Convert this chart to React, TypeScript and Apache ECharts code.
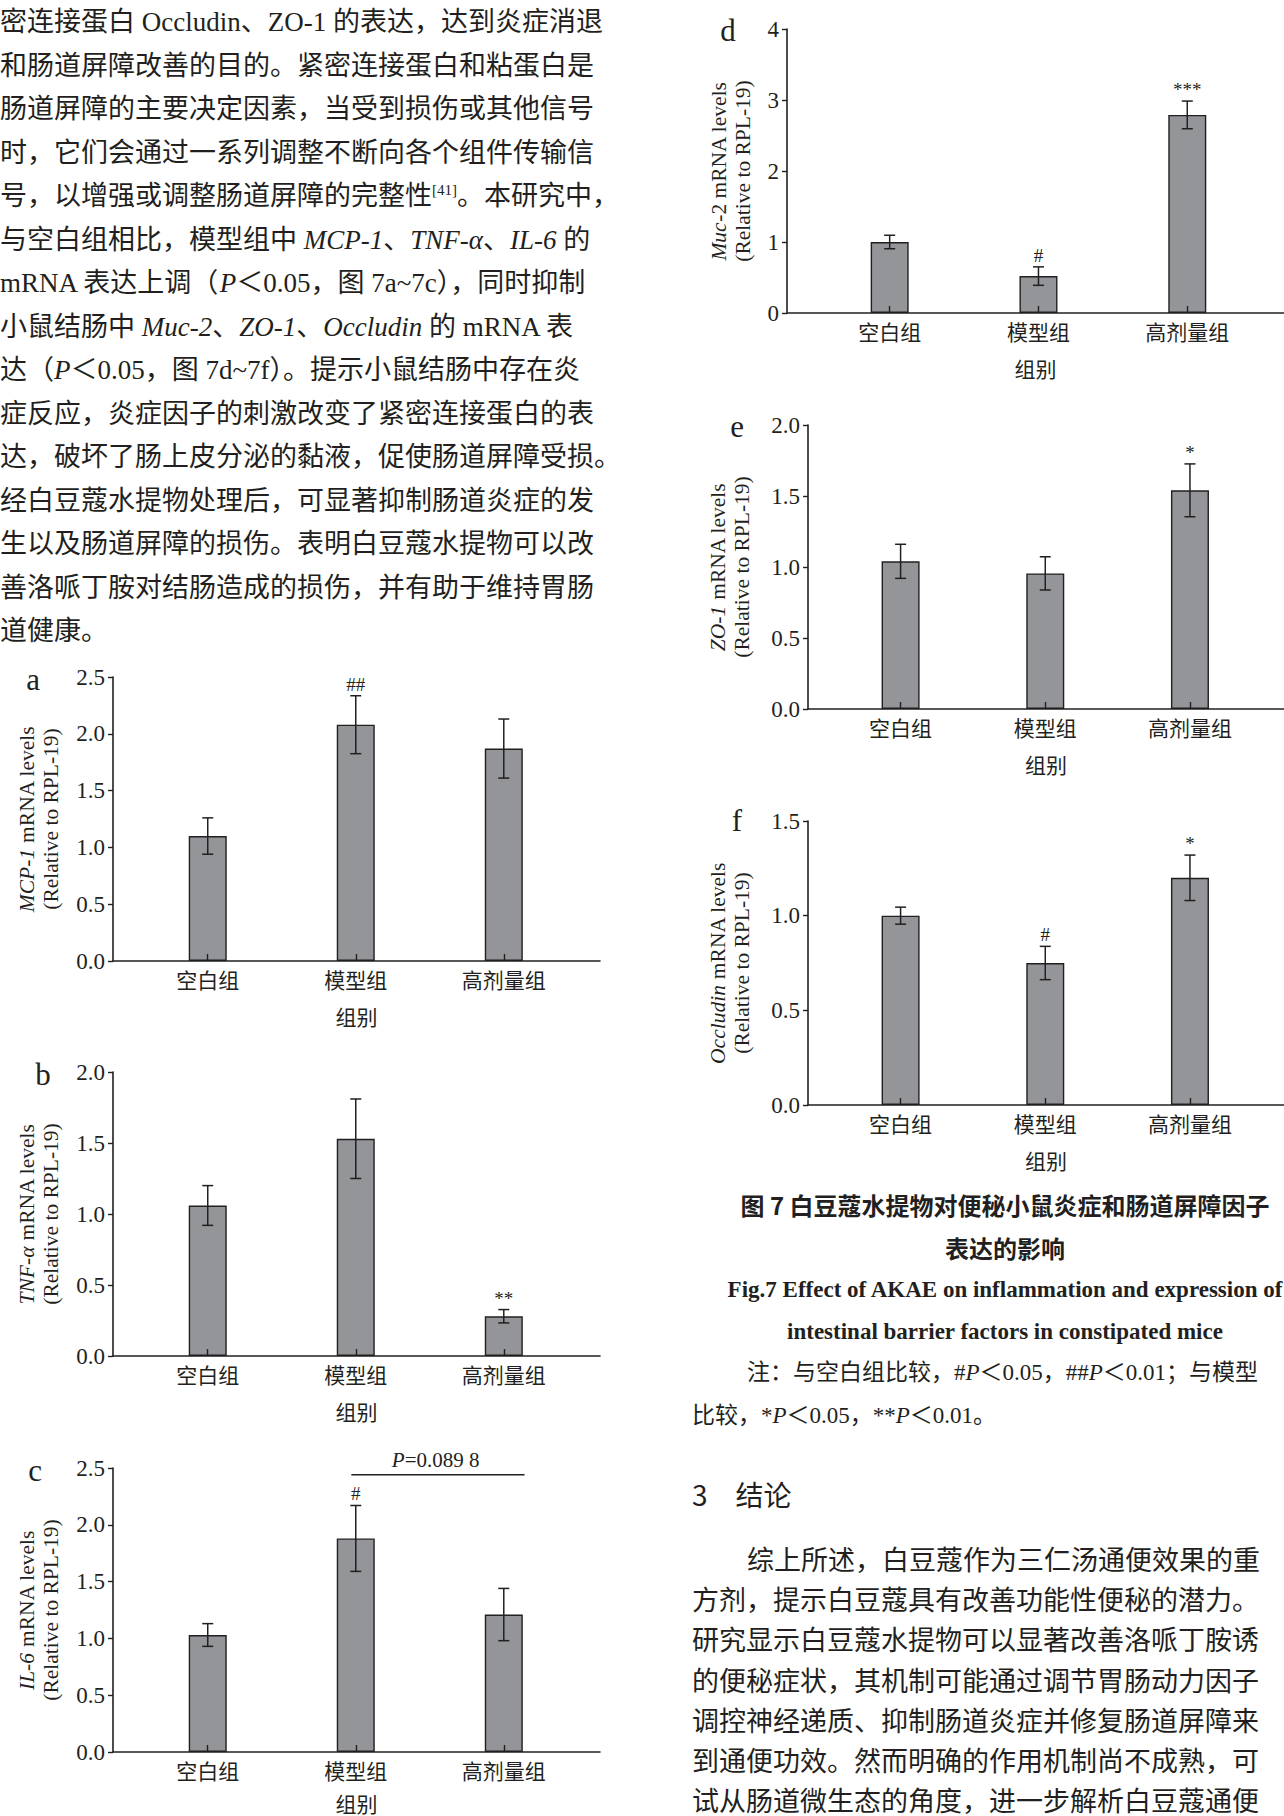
import React, { useEffect, useRef } from 'react';
import * as echarts from 'echarts';

// ---------------- data ----------------
const categories = ['空白组', '模型组', '高剂量组'];
const catPos = [0, 1, 2];

const mcp1Mean = [1.1, 2.08, 1.87];
const mcp1Err = [0.16, 0.255, 0.26];
const mcp1Marks = ['', '##', ''];

const tnfMean = [1.06, 1.53, 0.28];
const tnfErr = [0.14, 0.28, 0.047];
const tnfMarks = ['', '', '**'];

const il6Mean = [1.03, 1.88, 1.21];
const il6Err = [0.1, 0.29, 0.23];
const il6Marks = ['', '#', ''];
const il6PLine = [[0.97, 2.14, 2.44, 1.54]];
const il6PText = 'P=0.089 8';

const muc2Mean = [1.0, 0.52, 2.79];
const muc2Err = [0.095, 0.13, 0.195];
const muc2Marks = ['', '#', '***'];

const zo1Mean = [1.04, 0.955, 1.54];
const zo1Err = [0.12, 0.117, 0.186];
const zo1Marks = ['', '', '*'];

const occMean = [1.0, 0.75, 1.2];
const occErr = [0.045, 0.088, 0.12];
const occMarks = ['', '#', '*'];

const yMaxes = [2.5, 2.0, 2.5, 4, 2.0, 1.5];
const yIntervals = [0.5, 0.5, 0.5, 1, 0.5, 0.5];
const yDecimals = [1, 1, 1, 0, 1, 1];
const yNames = [
  '{i|MCP-1} mRNA levels\n(Relative to RPL-19)',
  '{i|TNF-α} mRNA levels\n(Relative to RPL-19)',
  '{i|IL-6} mRNA levels\n(Relative to RPL-19)',
  '{i|Muc}-2 mRNA levels\n(Relative to RPL-19)',
  '{i|ZO-1} mRNA levels\n(Relative to RPL-19)',
  '{i|Occludin} mRNA levels\n(Relative to RPL-19)',
];
const xName = '组别';
const panelLetters = ['a', 'b', 'c', 'd', 'e', 'f'];

const leftText = [
  '密连接蛋白 Occludin、ZO-1 的表达，达到炎症消退',
  '和肠道屏障改善的目的。紧密连接蛋白和粘蛋白是',
  '肠道屏障的主要决定因素，当受到损伤或其他信号',
  '时，它们会通过一系列调整不断向各个组件传输信',
  '号，以增强或调整肠道屏障的完整性{sup|[41]}。本研究中，',
  '与空白组相比，模型组中 {i|MCP-1}、{i|TNF-α}、{i|IL-6} 的',
  'mRNA 表达上调（{i|P}＜0.05，图 7a~7c），同时抑制',
  '小鼠结肠中 {i|Muc-2}、{i|ZO-1}、{i|Occludin} 的 mRNA 表',
  '达（{i|P}＜0.05，图 7d~7f）。提示小鼠结肠中存在炎',
  '症反应，炎症因子的刺激改变了紧密连接蛋白的表',
  '达，破坏了肠上皮分泌的黏液，促使肠道屏障受损。',
  '经白豆蔻水提物处理后，可显著抑制肠道炎症的发',
  '生以及肠道屏障的损伤。表明白豆蔻水提物可以改',
  '善洛哌丁胺对结肠造成的损伤，并有助于维持胃肠',
  '道健康。',
];

const captionCn = ['图 7 白豆蔻水提物对便秘小鼠炎症和肠道屏障因子', '表达的影响'];
const captionEn = ['Fig.7 Effect of AKAE on inflammation and expression of', 'intestinal barrier factors in constipated mice'];
const noteText = [
  '注：与空白组比较，#{i|P}＜0.05，##{i|P}＜0.01；与模型',
  '比较，*{i|P}＜0.05，**{i|P}＜0.01。',
];
const sectionTitle = '3　结论';
const rightText = [
  '综上所述，白豆蔻作为三仁汤通便效果的重',
  '方剂，提示白豆蔻具有改善功能性便秘的潜力。',
  '研究显示白豆蔻水提物可以显著改善洛哌丁胺诱',
  '的便秘症状，其机制可能通过调节胃肠动力因子',
  '调控神经递质、抑制肠道炎症并修复肠道屏障来',
  '到通便功效。然而明确的作用机制尚不成熟，可',
  '试从肠道微生态的角度，进一步解析白豆蔻通便',
];

// ---------------- styling / layout ----------------
const INK = '#231f20';
const BAR = '#939598';
const SERIF = "'Liberation Serif', 'Times New Roman', 'Noto Sans CJK SC', serif";
const CJK = "'Noto Sans CJK SC', sans-serif";
const MIXED = "'Liberation Serif', 'Noto Sans CJK SC', serif";

const panelData = [
  { mean: mcp1Mean, err: mcp1Err, marks: mcp1Marks },
  { mean: tnfMean, err: tnfErr, marks: tnfMarks },
  { mean: il6Mean, err: il6Err, marks: il6Marks },
  { mean: muc2Mean, err: muc2Err, marks: muc2Marks },
  { mean: zo1Mean, err: zo1Err, marks: zo1Marks },
  { mean: occMean, err: occErr, marks: occMarks },
];

const layout = [
  { left: 113, top: 677, width: 487, xMin: -0.64, nameGap: 50, xNameGap: 44, lx: 33, ly: 679 },
  { left: 113, top: 1072, width: 487, xMin: -0.64, nameGap: 50, xNameGap: 44, lx: 43, ly: 1074 },
  { left: 113, top: 1468, width: 487, xMin: -0.64, nameGap: 50, xNameGap: 40, lx: 35, ly: 1470 },
  { left: 787, top: 29, width: 508, xMin: -0.69, nameGap: 32, xNameGap: 44, lx: 728, ly: 30 },
  { left: 808, top: 425, width: 487, xMin: -0.64, nameGap: 54, xNameGap: 44, lx: 737, ly: 426 },
  { left: 808, top: 821, width: 487, xMin: -0.64, nameGap: 54, xNameGap: 44, lx: 737, ly: 820 },
];
const GRID_H = 284;
const X_MAX = 2.65;

function txt(text: string, x: number, y: number, o: any = {}) {
  const align = o.align || 'left';
  const va = o.va || 'middle';
  return {
    type: 'text',
    silent: true,
    x,
    y,
    style: {
      text,
      fill: INK,
      fontFamily: o.fontFamily || MIXED,
      fontSize: o.fontSize || 27,
      fontWeight: o.fontWeight || 'normal',
      fontStyle: o.fontStyle || 'normal',
      align,
      textAlign: align,
      verticalAlign: va,
      textVerticalAlign: va,
      rich: o.rich,
    },
  };
}

export default function App() {
  const ref = useRef<HTMLDivElement>(null);

  useEffect(() => {
    document.body.style.margin = '0';
    if (!ref.current) return;
    const chart = echarts.init(ref.current, null, { renderer: 'svg', width: 1284, height: 1816 });

    const grid = layout.map((l) => ({ left: l.left, top: l.top, width: l.width, height: GRID_H }));

    const xAxis = layout.map((l, i) => ({
      type: 'value',
      gridIndex: i,
      min: l.xMin,
      max: X_MAX,
      z: 10,
      axisLine: { show: true, onZero: false, lineStyle: { color: INK, width: 1.6 } },
      axisTick: { show: true, inside: true, length: 7, customValues: catPos, lineStyle: { color: INK, width: 1.4 } },
      axisLabel: {
        customValues: catPos,
        formatter: (v: number) => categories[Math.round(v)] ?? '',
        margin: 7,
        fontFamily: CJK,
        fontSize: 21,
        color: INK,
      },
      splitLine: { show: false },
      name: xName,
      nameLocation: 'middle',
      nameGap: l.xNameGap,
      nameTextStyle: { fontFamily: CJK, fontSize: 21, color: INK },
    }));

    const yAxis = layout.map((l, i) => ({
      type: 'value',
      gridIndex: i,
      min: 0,
      max: yMaxes[i],
      interval: yIntervals[i],
      z: 10,
      axisLine: { show: true, onZero: false, lineStyle: { color: INK, width: 1.6 } },
      axisTick: { show: true, inside: false, length: 5, lineStyle: { color: INK, width: 1.4 } },
      axisLabel: {
        formatter: (v: number) => v.toFixed(yDecimals[i]),
        margin: 8,
        fontFamily: SERIF,
        fontSize: 23,
        color: INK,
      },
      splitLine: { show: false },
      name: yNames[i],
      nameLocation: 'middle',
      nameRotate: 90,
      nameGap: l.nameGap,
      nameTextStyle: {
        fontFamily: SERIF,
        fontSize: 21.5,
        lineHeight: 24,
        color: INK,
        rich: { i: { fontFamily: SERIF, fontSize: 21.5, lineHeight: 24, fontStyle: 'italic', color: INK } },
      },
    }));

    const series: any[] = [];
    panelData.forEach((p, i) => {
      series.push({
        type: 'bar',
        xAxisIndex: i,
        yAxisIndex: i,
        silent: true,
        barWidth: 38,
        z: 2,
        data: p.mean.map((v, j) => [catPos[j], v]),
        itemStyle: { color: BAR, borderColor: INK, borderWidth: 1.4 },
      });
      series.push({
        type: 'custom',
        xAxisIndex: i,
        yAxisIndex: i,
        silent: true,
        z: 3,
        data: p.mean.map((v, j) => [catPos[j], v - p.err[j], v + p.err[j]]),
        renderItem: (params: any, api: any) => {
          const x = api.value(0);
          const top = api.coord([x, api.value(2)]);
          const bot = api.coord([x, api.value(1)]);
          const cap = 5.5;
          const ls = { stroke: INK, lineWidth: 1.5 };
          const children: any[] = [
            { type: 'line', shape: { x1: top[0], y1: top[1], x2: bot[0], y2: bot[1] }, style: ls },
            { type: 'line', shape: { x1: top[0] - cap, y1: top[1], x2: top[0] + cap, y2: top[1] }, style: ls },
            { type: 'line', shape: { x1: bot[0] - cap, y1: bot[1], x2: bot[0] + cap, y2: bot[1] }, style: ls },
          ];
          const mark = p.marks[params.dataIndex];
          if (mark) {
            children.push({
              type: 'text',
              x: top[0],
              y: top[1] - 2,
              style: {
                text: mark,
                fill: INK,
                fontFamily: SERIF,
                fontSize: 19,
                align: 'center',
                verticalAlign: 'bottom',
              },
            });
          }
          return { type: 'group', children };
        },
      });
    });

    // P-value bracket line for panel c
    series.push({
      type: 'custom',
      xAxisIndex: 2,
      yAxisIndex: 2,
      silent: true,
      z: 3,
      data: il6PLine,
      renderItem: (params: any, api: any) => {
        const a = api.coord([api.value(0), api.value(2)]);
        const b = api.coord([api.value(1), api.value(2)]);
        const t = api.coord([api.value(3), api.value(2)]);
        return {
          type: 'group',
          children: [
            { type: 'line', shape: { x1: a[0], y1: a[1], x2: b[0], y2: b[1] }, style: { stroke: INK, lineWidth: 1.5 } },
            {
              type: 'text',
              x: t[0],
              y: t[1] - 4,
              style: {
                text: '{i|P}' + il6PText.slice(1),
                fill: INK,
                fontFamily: SERIF,
                fontSize: 21,
                align: 'center',
                verticalAlign: 'bottom',
                rich: { i: { fontFamily: SERIF, fontSize: 21, fontStyle: 'italic', fill: INK } },
              },
            },
          ],
        };
      },
    });

    const italicRich = {
      i: { fontFamily: SERIF, fontSize: 27, fontStyle: 'italic', fill: INK },
      sup: { fontFamily: SERIF, fontSize: 15, fill: INK, verticalAlign: 'top' },
    };
    const noteRich = { i: { fontFamily: SERIF, fontSize: 23, fontStyle: 'italic', fill: INK } };

    const graphic: any[] = [];
    leftText.forEach((s, k) => {
      graphic.push(txt(s, 0, 22 + k * 43.5, { fontSize: 27, rich: italicRich }));
    });
    panelLetters.forEach((c, i) => {
      graphic.push(txt(c, layout[i].lx, layout[i].ly, { fontFamily: SERIF, fontSize: 31, align: 'center' }));
    });
    graphic.push(txt(captionCn[0], 1005, 1204, { fontFamily: CJK, fontSize: 24, fontWeight: 'bold', align: 'center' }));
    graphic.push(txt(captionCn[1], 1005, 1247, { fontFamily: CJK, fontSize: 24, fontWeight: 'bold', align: 'center' }));
    graphic.push(txt(captionEn[0], 1005, 1289, { fontFamily: SERIF, fontSize: 23, fontWeight: 'bold', align: 'center' }));
    graphic.push(txt(captionEn[1], 1005, 1331, { fontFamily: SERIF, fontSize: 23, fontWeight: 'bold', align: 'center' }));
    graphic.push(txt(noteText[0], 747, 1372, { fontSize: 23, rich: noteRich }));
    graphic.push(txt(noteText[1], 692, 1415, { fontSize: 23, rich: noteRich }));
    graphic.push(txt(sectionTitle, 692, 1494, { fontFamily: CJK, fontSize: 28 }));
    rightText.forEach((s, k) => {
      graphic.push(txt(s, k === 0 ? 747 : 692, 1561 + k * 40.2, { fontSize: 27 }));
    });

    chart.setOption({
      animation: false,
      backgroundColor: '#ffffff',
      grid,
      xAxis,
      yAxis,
      series,
      graphic,
    });

    return () => chart.dispose();
  }, []);

  return <div ref={ref} style={{ width: 1284, height: 1816 }} />;
}
